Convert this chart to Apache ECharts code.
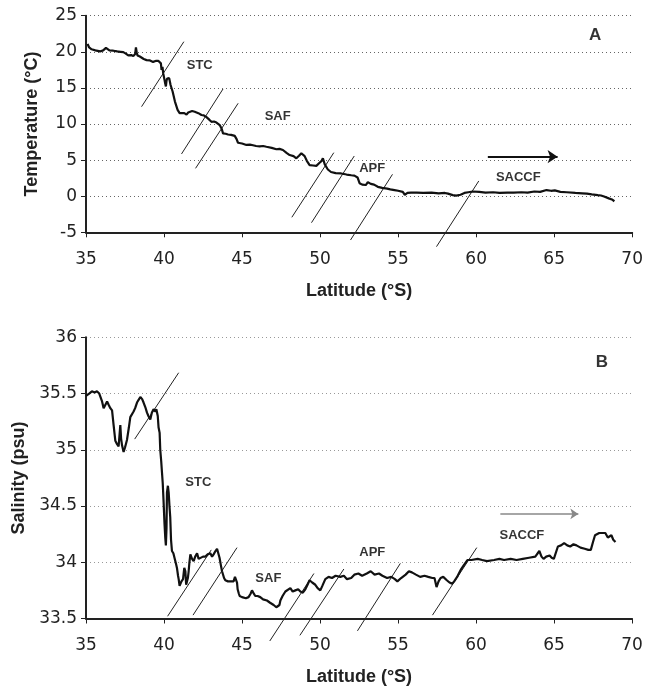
<!DOCTYPE html>
<html>
<head>
<meta charset="utf-8">
<style>html,body{margin:0;padding:0;background:#fff}#c{width:646px;height:688px}</style>
<script src="https://cdn.jsdelivr.net/npm/echarts@6/dist/echarts.min.js"></script>
</head>
<body>
<div id="c"></div>
<script>
// ---- Panel A: temperature ----
const latT = [35.1,35.2,35.36,35.6,35.9,36.1,36.28,36.5,36.75,37.0,37.2,37.39,37.55,37.71,37.9,38.03,38.15,38.2,38.25,38.3,38.45,38.56,38.7,38.88,39.1,39.3,39.5,39.63,39.75,39.8,39.84,39.9,39.95,40.0,40.05,40.12,40.16,40.2,40.33,40.42,40.55,40.7,40.87,41.0,41.12,41.3,41.44,41.55,41.65,41.8,41.97,42.2,42.4,42.55,42.72,42.9,43.04,43.2,43.36,43.57,43.7,43.78,43.95,44.1,44.3,44.53,44.65,44.74,45.0,45.28,45.5,45.7,45.9,46.13,46.35,46.56,46.9,47.2,47.4,47.62,47.85,48.05,48.3,48.48,48.65,48.8,48.9,49.01,49.15,49.33,49.55,49.76,49.95,50.1,50.18,50.3,50.5,50.7,51.0,51.35,51.7,52.0,52.2,52.4,52.53,52.7,52.93,53.06,53.25,53.46,53.7,53.98,54.3,54.5,54.77,55.0,55.3,55.43,55.6,55.83,56.2,56.6,57.14,57.6,58.0,58.2,58.5,58.72,59.0,59.25,59.5,59.78,60.2,60.6,61.09,61.5,62.0,62.41,62.9,63.3,63.73,64.1,64.51,64.8,65.04,65.4,65.8,66.36,66.8,67.1,67.41,67.8,68.0,68.2,68.5,68.7,68.86];
const tempC = [21.1,20.6,20.35,20.2,20.05,20.2,20.55,20.2,20.15,20.05,20.0,19.95,19.75,19.5,19.55,19.4,19.7,20.6,19.9,19.5,19.35,19.1,19.0,18.85,18.8,18.6,18.75,18.75,18.6,18.4,17.5,17.9,17.0,17.2,15.9,15.2,16.0,16.3,16.35,15.4,14.5,13.1,11.95,11.5,11.35,11.5,11.3,11.6,11.85,11.8,11.7,11.5,11.25,11.2,10.95,10.6,10.3,10.35,10.2,9.85,9.3,8.7,8.65,8.55,8.5,8.35,7.9,7.4,7.3,7.1,7.15,7.05,6.95,6.9,6.95,6.85,6.7,6.5,6.55,6.4,6.0,5.7,5.55,5.25,5.6,5.95,5.9,5.55,4.9,4.3,4.25,4.2,4.6,4.9,5.25,4.4,3.7,3.35,3.2,3.15,3.0,2.9,2.85,2.6,1.8,1.6,1.55,1.95,1.7,1.6,1.3,1.15,1.05,0.95,0.85,0.75,0.6,0.2,0.45,0.5,0.5,0.45,0.5,0.4,0.45,0.35,0.15,0.08,0.2,0.45,0.55,0.65,0.6,0.5,0.55,0.45,0.5,0.5,0.55,0.5,0.65,0.6,0.85,0.75,0.8,0.6,0.55,0.45,0.4,0.35,0.25,0.15,0.1,-0.05,-0.3,-0.45,-0.7];

// ---- Panel B: salinity ----
const latS = [35.0,35.2,35.38,35.55,35.7,35.85,35.92,36.03,36.13,36.24,36.35,36.45,36.56,36.67,36.77,36.88,36.99,37.09,37.2,37.25,37.31,37.41,37.5,37.63,37.75,37.84,37.95,38.05,38.15,38.27,38.4,38.48,38.6,38.69,38.8,38.91,39.0,39.12,39.22,39.33,39.45,39.51,39.6,39.65,39.72,39.76,39.82,39.87,39.92,39.97,40.03,40.08,40.12,40.16,40.19,40.25,40.3,40.35,40.4,40.45,40.51,40.6,40.72,40.78,40.83,40.9,40.94,41.0,41.04,41.12,41.22,41.3,41.37,41.42,41.47,41.53,41.58,41.63,41.69,41.8,41.9,42.0,42.12,42.22,42.33,42.5,42.65,42.8,42.97,43.08,43.18,43.3,43.4,43.48,43.56,43.65,43.72,43.85,43.93,44.1,44.25,44.35,44.46,44.55,44.63,44.68,44.72,44.8,44.85,45.0,45.1,45.25,45.42,45.55,45.64,45.72,45.85,46.0,46.17,46.35,46.6,46.8,47.03,47.2,47.31,47.4,47.46,47.6,47.78,47.9,48.1,48.25,48.42,48.6,48.74,48.9,49.06,49.2,49.33,49.5,49.7,49.85,50.02,50.15,50.34,50.55,50.77,51.0,51.3,51.53,51.73,52.0,52.2,52.46,52.7,53.0,53.25,53.5,53.78,54.0,54.3,54.57,54.8,54.96,55.2,55.49,55.7,55.89,56.15,56.42,56.7,56.94,57.2,57.34,57.47,57.6,57.73,57.9,58.13,58.3,58.47,58.6,58.79,58.9,59.05,59.2,59.45,59.7,60.11,60.4,60.7,61.16,61.5,61.8,62.22,62.6,63.0,63.4,63.8,64.06,64.2,64.33,64.5,64.72,64.85,64.99,65.25,65.45,65.65,65.85,66.04,66.25,66.44,66.7,66.97,67.2,67.36,67.5,67.63,67.9,68.1,68.29,68.45,68.55,68.68,68.8,68.94];
const salinity = [35.48,35.5,35.52,35.51,35.52,35.5,35.49,35.43,35.37,35.38,35.43,35.40,35.37,35.35,35.22,35.08,35.05,35.03,35.22,35.1,35.04,34.98,35.02,35.09,35.2,35.29,35.3,35.34,35.37,35.42,35.45,35.47,35.45,35.42,35.38,35.33,35.3,35.27,35.33,35.36,35.34,35.36,35.3,35.2,35.15,35.0,34.9,34.8,34.7,34.55,34.35,34.22,34.15,34.3,34.62,34.68,34.62,34.5,34.4,34.2,34.1,34.08,34.07,33.98,33.95,33.88,33.85,33.79,33.78,33.83,33.85,33.95,33.92,33.8,33.79,33.86,33.92,34.0,34.07,34.03,34.01,34.05,34.08,34.03,34.02,34.05,34.05,34.07,34.08,34.05,34.07,34.1,34.12,34.08,34.04,33.97,33.92,33.86,33.84,33.83,33.83,33.82,33.83,33.87,33.87,33.82,33.76,33.72,33.7,33.69,33.7,33.68,33.69,33.72,33.75,33.73,33.7,33.7,33.69,33.67,33.66,33.64,33.62,33.6,33.59,33.62,33.66,33.7,33.74,33.75,33.77,33.74,33.75,33.76,33.74,33.73,33.76,33.8,33.84,33.82,33.8,33.77,33.75,33.79,33.85,33.87,33.86,33.88,33.87,33.88,33.85,33.86,33.89,33.9,33.88,33.9,33.92,33.89,33.9,33.88,33.86,33.87,33.85,33.83,33.86,33.89,33.92,33.91,33.89,33.87,33.88,33.87,33.86,33.86,33.78,33.83,33.86,33.87,33.84,33.82,33.81,33.83,33.87,33.9,33.94,33.97,34.02,34.02,34.03,34.02,34.01,34.02,34.03,34.02,34.03,34.02,34.03,34.04,34.05,34.1,34.05,34.03,34.05,34.06,34.04,34.03,34.14,34.15,34.17,34.15,34.14,34.16,34.15,34.13,34.12,34.11,34.11,34.18,34.24,34.26,34.26,34.26,34.22,34.21,34.24,34.2,34.18];

// front marker segments [lat1, v1, lat2, v2]
const frontLinesA = [[38.56,12.4,41.27,21.4],[41.12,5.85,43.78,14.85],[42.02,3.86,44.75,12.87],[48.19,-2.92,50.88,6.03],[49.45,-3.67,52.19,5.57],[51.95,-6.07,54.64,3.03],[57.46,-6.99,60.17,2.11]];
const frontLinesB = [[38.12,35.095,40.94,35.685],[40.23,33.52,43.03,34.11],[41.86,33.53,44.68,34.13],[46.78,33.30,49.61,33.90],[48.71,33.35,51.53,33.94],[52.40,33.39,55.15,33.99],[57.21,33.53,60.05,34.13]];

// front labels
const frontNames = ['STC','SAF','APF','SACCF'];
const labelPosA = [[42.29,18.17],[47.28,11.0],[53.34,3.81],[62.7,2.62]];
const labelPosB = [[42.2,34.71],[46.69,33.86],[53.35,34.09],[62.94,34.24]];
const panelA = {name:'A', pos:[67.63,22.33]};
const panelB = {name:'B', pos:[68.07,35.78]};
const arrowA = [[60.75,5.47],[65.22,5.47]];
const arrowB = [[61.56,34.43],[66.56,34.43]];

const xTicks = {min:35, max:70, interval:5};
const tempTicks = {min:-5, max:25, interval:5};
const salTicks = {min:33.5, max:36, interval:0.5};

const tickFont = {fontFamily:'DejaVu Sans', fontSize:17, color:'#222'};
const titleFont = {fontFamily:'Liberation Sans', fontSize:18, fontWeight:'bold', color:'#222'};

function xAxis(idx){
  return {type:'value', gridIndex:idx, min:xTicks.min, max:xTicks.max, interval:xTicks.interval,
    name:'Latitude (°S)', nameLocation:'middle', nameGap:50, nameTextStyle:titleFont,
    axisLine:{show:true, onZero:false, lineStyle:{color:'#222', width:2}},
    axisTick:{show:true, length:5, lineStyle:{color:'#222', width:1}},
    axisLabel:Object.assign({margin:19}, tickFont),
    splitLine:{show:false}};
}
function yAxis(idx, t, name, gap, gridColor){
  return {type:'value', gridIndex:idx, min:t.min, max:t.max, interval:t.interval,
    name:name, nameLocation:'middle', nameGap:gap, nameTextStyle:titleFont,
    axisLine:{show:true, lineStyle:{color:'#222', width:2}},
    axisTick:{show:true, length:5, lineStyle:{color:'#222', width:1}},
    axisLabel:Object.assign({margin:9}, tickFont),
    splitLine:{show:true, lineStyle:{color:gridColor, width:1, type:[1,3]}}};
}
function labels(idx, positions, panel){
  const data = frontNames.map((n,i)=>({name:n, value:positions[i]}));
  return [{type:'scatter', xAxisIndex:idx, yAxisIndex:idx, symbolSize:0, silent:true,
    label:{show:true, position:'inside', formatter:'{b}', fontFamily:'Liberation Sans', fontSize:13, fontWeight:'bold', color:'#000'},
    data:data},
   {type:'scatter', xAxisIndex:idx, yAxisIndex:idx, symbolSize:0, silent:true,
    label:{show:true, position:'inside', formatter:'{b}', fontFamily:'Liberation Sans', fontSize:17, fontWeight:'bold', color:'#000'},
    data:[{name:panel.name, value:panel.pos}]}];
}
function fronts(idx, segs){
  return {type:'lines', coordinateSystem:'cartesian2d', xAxisIndex:idx, yAxisIndex:idx, clip:false, silent:true,
    lineStyle:{color:'#222', width:1, opacity:1},
    data:segs.map(s=>({coords:[[s[0],s[1]],[s[2],s[3]]]}))};
}

const chart = echarts.init(document.getElementById('c'), null, {renderer:'canvas'});
chart.setOption({
  animation:false,
  backgroundColor:'#fff',
  grid:[{left:86, right:13, top:15.7, height:216.6},{left:86, right:14, top:337.3, height:281.2}],
  xAxis:[xAxis(0), xAxis(1)],
  yAxis:[yAxis(0,tempTicks,'Temperature (°C)',45,'#666'), yAxis(1,salTicks,'Salinity (psu)',58,'#999')],
  series:[
    {type:'line', xAxisIndex:0, yAxisIndex:0, showSymbol:false, lineStyle:{color:'#111', width:2.2}, data:latT.map((x,i)=>[x,tempC[i]])},
    {type:'line', xAxisIndex:1, yAxisIndex:1, showSymbol:false, lineStyle:{color:'#111', width:2.2}, data:latS.map((x,i)=>[x,salinity[i]])},
    fronts(0, frontLinesA), fronts(1, frontLinesB),
    {type:'lines', coordinateSystem:'cartesian2d', xAxisIndex:0, yAxisIndex:0, silent:true, symbol:['none','arrow'], symbolSize:10,
      lineStyle:{color:'#111', width:2, opacity:1}, data:[{coords:arrowA}]},
    {type:'lines', coordinateSystem:'cartesian2d', xAxisIndex:1, yAxisIndex:1, silent:true, symbol:['none','arrow'], symbolSize:8,
      lineStyle:{color:'#888', width:1.5, opacity:1}, data:[{coords:arrowB}]},
    ...labels(0, labelPosA, panelA),
    ...labels(1, labelPosB, panelB)
  ]
});
</script>
</body>
</html>
